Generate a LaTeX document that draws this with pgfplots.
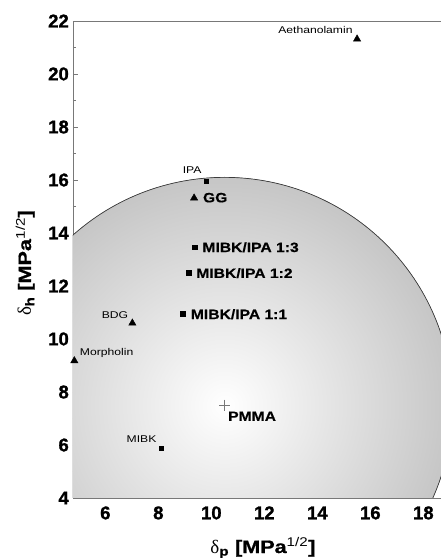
\documentclass[border=0pt]{standalone}
\usepackage{fontspec}
\setmainfont{Liberation Sans}
\newfontfamily\tickfont[BoldFeatures={FakeBold=1.2}]{Liberation Sans}
\newfontfamily\smallfont[FakeStretch=1.24]{Liberation Sans}
\newfontfamily\boldfont[FakeStretch=1.16, BoldFeatures={FakeBold=0.4}]{Liberation Sans}
\newfontfamily\labelfont[FakeStretch=1.2, BoldFeatures={FakeBold=1}]{Liberation Sans}
\newfontfamily\greekfont{Liberation Serif}
\usepackage{pgfplots}
\pgfplotsset{compat=1.18}

\definecolor{rimgray}{RGB}{158,158,158}
\definecolor{midgray}{RGB}{198,198,198}
\definecolor{axisgray}{RGB}{120,120,120}
\definecolor{plusgray}{RGB}{120,120,120}
\definecolor{circlegray}{RGB}{60,60,60}

% white at the centre, grey at the rim of the solubility sphere
\pgfdeclareradialshading{sphere}{\pgfpoint{0bp}{0bp}}{color(0bp)=(white); color(25bp)=(midgray); color(50bp)=(rimgray); color(51bp)=(rimgray)}

\newcommand{\smalllbl}{\fontsize{9.8bp}{11bp}\selectfont\smallfont}
\newcommand{\boldlbl}{\fontsize{13.5bp}{15bp}\selectfont\boldfont\bfseries}
\newcommand{\ticklbl}{\fontsize{18.5bp}{20bp}\selectfont\tickfont\bfseries}

\begin{document}
\begin{tikzpicture}
\begin{axis}[
  x=26.5bp, y=26.5bp,
  xmin=4.78, xmax=18.72, ymin=4, ymax=22,
  axis line style={draw=axisgray, line width=0.8pt},
  tick style={draw=axisgray, line width=0.8pt},
  tick align=inside, tick pos=left,
  major tick length=5bp, minor tick length=3bp,
  xtick={6,8,10,12,14,16,18}, ytick={4,6,8,10,12,14,16,18,20,22},
  xticklabels={6,8,10,12,14,16,18},
  yticklabels={4,6,8,10,12,14,16,18,20,22},
  minor xtick={5,7,...,17}, minor ytick={5,7,...,21},
  xticklabel style={font=\ticklbl, anchor=base, inner sep=0pt, yshift=-21.3bp},
  yticklabel style={font=\ticklbl, anchor=east, inner sep=0pt, xshift=-4bp},
  label style={font=\fontsize{18bp}{20bp}\selectfont\labelfont\bfseries},
  xlabel={{\fontsize{19bp}{20bp}\selectfont\greekfont\mdseries δ}\textsubscript{p} [MPa\textsuperscript{\mdseries 1/2}]},
  ylabel={{\fontsize{19bp}{20bp}\selectfont\greekfont\mdseries δ}\textsubscript{h} [MPa\textsuperscript{\mdseries 1/2}]},
  xlabel style={at={([yshift=-55bp]axis description cs:0.514,0)}, anchor=base},
  ylabel style={at={([xshift=-42bp]axis description cs:0,0.493)}, anchor=base},
]
  % solubility sphere of PMMA
  \fill[shading=sphere] (axis cs:10.5,7.5) circle[radius=227.9bp];
  \draw[circlegray, line width=0.7pt] (axis cs:10.5,7.5) circle[radius=227.9bp];

  % triangles: Aethanolamin, GG, BDG, Morpholin
  \addplot[only marks, mark=triangle*, mark size=4.2bp, black]
    coordinates {(15.5,21.32) (9.35,15.32) (7.02,10.6) (4.83,9.18)};
  % squares: IPA, MIBK/IPA 1:3, 1:2, 1:1, MIBK
  \addplot[only marks, mark=square*, mark size=2.3bp, black]
    coordinates {(9.8,15.95) (9.37,13.47) (9.15,12.5) (8.93,10.95) (8.11,5.88)};
  % PMMA
  \addplot[only marks, mark=+, mark size=5.5bp, plusgray, mark options={line width=0.7pt}]
    coordinates {(10.5,7.5)};

  \node[anchor=base east, inner sep=0pt, font=\smalllbl] at ([shift={(-4.3bp,5.7bp)}]axis cs:15.5,21.32) {Aethanolamin};
  \node[anchor=base east, inner sep=0pt, font=\smalllbl] at ([shift={(-4.3bp,7.4bp)}]axis cs:9.8,15.95) {IPA};
  \node[anchor=base west, inner sep=0pt, font=\boldlbl] at ([shift={(8.7bp,-4.3bp)}]axis cs:9.35,15.32) {GG};
  \node[anchor=base west, inner sep=0pt, font=\boldlbl] at ([shift={(7.6bp,-5bp)}]axis cs:9.37,13.47) {MIBK/IPA 1:3};
  \node[anchor=base west, inner sep=0pt, font=\boldlbl] at ([shift={(7.3bp,-5.2bp)}]axis cs:9.15,12.5) {MIBK/IPA 1:2};
  \node[anchor=base west, inner sep=0pt, font=\boldlbl] at ([shift={(7.7bp,-5.2bp)}]axis cs:8.93,10.95) {MIBK/IPA 1:1};
  \node[anchor=base east, inner sep=0pt, font=\smalllbl] at ([shift={(-4bp,4.7bp)}]axis cs:7.02,10.6) {BDG};
  \node[anchor=base west, inner sep=0pt, font=\smalllbl] at ([shift={(5.4bp,5.7bp)}]axis cs:4.83,9.18) {Morpholin};
  \node[anchor=base west, inner sep=0pt, font=\boldlbl] at ([shift={(3.4bp,-15.7bp)}]axis cs:10.5,7.5) {PMMA};
  \node[anchor=base east, inner sep=0pt, font=\smalllbl] at ([shift={(-4.6bp,5.6bp)}]axis cs:8.11,5.88) {MIBK};

  \coordinate (ll) at (rel axis cs:0,0);
  \coordinate (ur) at (rel axis cs:1,1);
\end{axis}
\pgfresetboundingbox
\path[use as bounding box] ([shift={(-73bp,-60bp)}]ll) rectangle ([shift={(-1.5bp,21bp)}]ur);
\end{tikzpicture}
\end{document}
